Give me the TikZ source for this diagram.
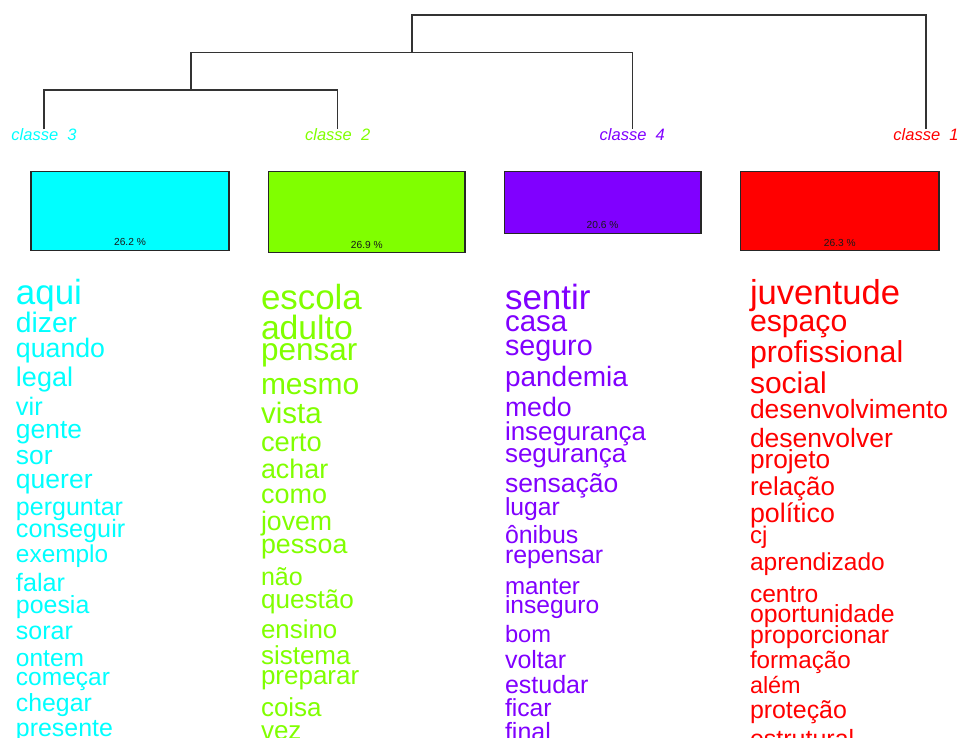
\documentclass[tikz,border=0pt]{standalone}
\usepackage{fontspec}
\setmainfont{Liberation Sans}
\definecolor{cA}{HTML}{FF0000}
\definecolor{cB}{HTML}{80FF00}
\definecolor{cC}{HTML}{00FFFF}
\definecolor{cD}{HTML}{8000FF}
\newcommand\fsz[1]{\fontsize{#1}{#1}\selectfont}
\tikzset{
  wrd/.style={anchor=base west, inner sep=0pt, outer sep=0pt},
  cls/.style={anchor=base, inner sep=0pt, outer sep=0pt, font=\fsz{16.5}\itshape},
  bar/.style={draw=black!85, line width=1.1pt, anchor=north west, inner sep=0pt, outer sep=0pt},
  pct/.style={inner sep=0pt, font=\fsz{10.2}, text=black!90},
  dendro/.style={draw=black!80, line width=1.2pt},
}
\begin{document}
\begin{tikzpicture}[x=1pt,y=-1pt]
\useasboundingbox (0,0) rectangle (959,738);
\clip (0,0) rectangle (959,738);

% class labels
\node[cls, text=cC] (cl3) at (44,141) {classe~~3};
\node[cls, text=cB] (cl2) at (337.7,141) {classe~~2};
\node[cls, text=cD] (cl4) at (632.3,141) {classe~~4};
\node[cls, text=cA] (cl1) at (926,141) {classe~~1};

% dendrogram
\coordinate (j32) at (191,90);
\coordinate (j324) at (412,52.7);
\coordinate (jroot) at (412,15);
\draw[dendro] (cl3.north) |- (j32) -| (cl2.north);
\draw[dendro] (j32) |- (j324) -| (cl4.north);
\draw[dendro] (j324) |- (jroot) -| (cl1.north);

% bars
\node[bar, fill=cC, minimum width=198pt, minimum height=78.6pt] (b3) at (31,171.7) {};
\node[bar, fill=cB, minimum width=196.3pt, minimum height=80.7pt] (b2) at (268.7,171.7) {};
\node[bar, fill=cD, minimum width=196.7pt, minimum height=61.8pt] (b4) at (504.3,171.7) {};
\node[bar, fill=cA, minimum width=198.3pt, minimum height=78.9pt] (b1) at (740.7,171.7) {};
\node[pct] (p3) at (130,242) {26.2 \%};
\node[pct] (p2) at (366.8,244.5) {26.9 \%};
\node[pct] (p4) at (602.6,225) {20.6 \%};
\node[pct] (p1) at (839.8,243) {26.3 \%};

% word lists
\foreach \w/\s/\y [count=\i] in {aqui/34.9/305, dizer/28.2/332.7, quando/26.7/357, legal/27/386,
  vir/25.3/415, gente/26.4/438, sor/26.4/464, querer/26.5/488, perguntar/25/515,
  conseguir/25.2/537, exemplo/24.4/562, falar/25.2/591, poesia/24.9/613, sorar/25/639,
  ontem/24.5/666, começar/24.5/685, chegar/24.8/711, presente/24.9/736}
  \node[wrd, text=cC, font=\fsz{\s}] (w3x\i) at (16,\y) {\w};

\foreach \w/\s/\y [count=\i] in {escola/34.9/309, adulto/33.7/339, pensar/31.5/360, mesmo/30/394,
  vista/29.5/423, certo/27.3/451, achar/26.9/478, como/27/503, jovem/26.7/530,
  pessoa/26.8/553, não/25/585, questão/26.1/608, ensino/25.9/638, sistema/26/664,
  preparar/26/684, coisa/26/716, vez/26/739}
  \node[wrd, text=cB, font=\fsz{\s}] (w2x\i) at (261,\y) {\w};

\foreach \w/\s/\y [count=\i] in {sentir/35/309, casa/29.5/331, seguro/28.7/355, pandemia/28/386,
  medo/26.7/416, insegurança/25.9/440, segurança/26/462, sensação/26.5/492, lugar/24.7/515,
  ônibus/24.9/543, repensar/24.9/563, manter/24.1/594, inseguro/24.6/613, bom/23.7/642,
  voltar/25/668, estudar/25/693, ficar/24.7/716, final/25/740}
  \node[wrd, text=cD, font=\fsz{\s}] (w4x\i) at (505,\y) {\w};

\foreach \w/\s/\y [count=\i] in {juventude/34.6/305, espaço/30.2/331, profissional/30.3/362,
  social/30/393, desenvolvimento/26.4/418, desenvolver/26.5/447, projeto/26.2/468,
  relação/25.9/495, político/26.8/522, cj/24/543, aprendizado/24.5/570, centro/24.6/602,
  oportunidade/24.8/622, proporcionar/24.8/643, formação/24.2/668, além/23.4/693,
  proteção/24.9/718, estrutural/25/747}
  \node[wrd, text=cA, font=\fsz{\s}] (w1x\i) at (750,\y) {\w};
\end{tikzpicture}
\end{document}
